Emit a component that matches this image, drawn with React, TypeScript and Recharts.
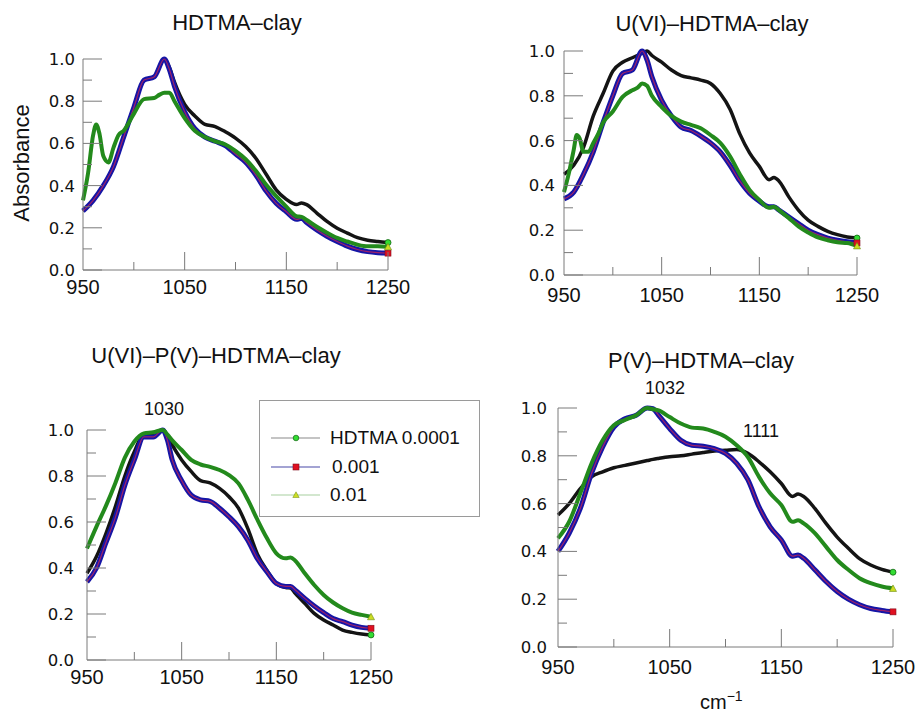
import React from 'react';
import { LineChart, Line, XAxis, YAxis, Legend } from 'recharts';

// wavenumber grids (cm^-1)
const WN = [950, 960, 970, 980, 990, 1000, 1010, 1020, 1030, 1035, 1040, 1050, 1060, 1070, 1080, 1090, 1100, 1110, 1120, 1130, 1140, 1150, 1160, 1165, 1170, 1180, 1190, 1200, 1210, 1220, 1230, 1240, 1250];
const WN_FINE = [950, 955, 960, 963, 966, 970, 975, 980, 985, 990, 1000, 1010, 1020, 1025, 1030, 1035, 1040, 1050, 1060, 1070, 1080, 1090, 1100, 1110, 1120, 1130, 1140, 1150, 1160, 1165, 1170, 1180, 1190, 1200, 1210, 1220, 1230, 1240, 1250];

const X_TICKS = [950, 1000, 1050, 1100, 1150, 1200, 1250];
const Y_TICKS = [0, 0.1, 0.2, 0.3, 0.4, 0.5, 0.6, 0.7, 0.8, 0.9, 1.0];

const SERIES_NAMES = ['HDTMA 0.0001', '0.001', '0.01'];

// Panel 1: HDTMA-clay
const P1_K = [0.28, 0.33, 0.40, 0.49, 0.63, 0.77, 0.90, 0.915, 1.0, 0.96, 0.89, 0.785, 0.73, 0.69, 0.68, 0.655, 0.625, 0.585, 0.53, 0.455, 0.38, 0.335, 0.31, 0.318, 0.31, 0.27, 0.23, 0.198, 0.175, 0.153, 0.141, 0.135, 0.13];
const P1_B = [0.28, 0.33, 0.40, 0.49, 0.63, 0.77, 0.90, 0.915, 1.0, 0.95, 0.87, 0.75, 0.67, 0.63, 0.61, 0.59, 0.55, 0.51, 0.45, 0.375, 0.316, 0.276, 0.24, 0.245, 0.225, 0.19, 0.16, 0.135, 0.113, 0.097, 0.087, 0.082, 0.08];
const P1_G = [0.33, 0.46, 0.64, 0.69, 0.65, 0.54, 0.51, 0.58, 0.64, 0.66, 0.74, 0.81, 0.815, 0.83, 0.84, 0.84, 0.80, 0.72, 0.66, 0.63, 0.61, 0.595, 0.565, 0.525, 0.47, 0.405, 0.35, 0.30, 0.255, 0.252, 0.237, 0.205, 0.177, 0.152, 0.135, 0.12, 0.112, 0.113, 0.11];

// Panel 2: U(VI)-HDTMA-clay
const P2_K = [0.45, 0.49, 0.57, 0.71, 0.81, 0.91, 0.95, 0.97, 0.99, 1.0, 0.98, 0.95, 0.915, 0.89, 0.88, 0.87, 0.855, 0.81, 0.74, 0.63, 0.545, 0.485, 0.425, 0.435, 0.42, 0.35, 0.29, 0.245, 0.217, 0.195, 0.18, 0.17, 0.165];
const P2_B = [0.34, 0.37, 0.45, 0.55, 0.68, 0.80, 0.90, 0.915, 1.0, 0.96, 0.885, 0.78, 0.71, 0.66, 0.645, 0.62, 0.59, 0.55, 0.49, 0.42, 0.365, 0.33, 0.305, 0.305, 0.29, 0.26, 0.23, 0.20, 0.18, 0.165, 0.155, 0.148, 0.143];
const P2_G = [0.37, 0.455, 0.56, 0.625, 0.61, 0.55, 0.55, 0.59, 0.63, 0.68, 0.73, 0.795, 0.825, 0.835, 0.855, 0.845, 0.80, 0.75, 0.71, 0.685, 0.67, 0.655, 0.625, 0.59, 0.53, 0.45, 0.38, 0.335, 0.30, 0.305, 0.29, 0.255, 0.217, 0.19, 0.168, 0.155, 0.146, 0.143, 0.13];

// Panel 3: U(VI)-P(V)-HDTMA-clay
const P3_K = [0.377, 0.45, 0.55, 0.667, 0.80, 0.905, 0.98, 0.98, 1.0, 0.975, 0.935, 0.87, 0.82, 0.78, 0.77, 0.746, 0.71, 0.66, 0.57, 0.46, 0.39, 0.333, 0.315, 0.313, 0.29, 0.246, 0.203, 0.174, 0.152, 0.13, 0.12, 0.113, 0.109];
const P3_B = [0.34, 0.40, 0.51, 0.62, 0.76, 0.87, 0.97, 0.97, 1.0, 0.955, 0.87, 0.78, 0.717, 0.696, 0.69, 0.66, 0.623, 0.58, 0.52, 0.44, 0.384, 0.333, 0.32, 0.32, 0.304, 0.268, 0.235, 0.206, 0.18, 0.167, 0.152, 0.142, 0.138];
const P3_G = [0.485, 0.58, 0.67, 0.77, 0.88, 0.95, 0.985, 0.99, 1.0, 0.98, 0.955, 0.913, 0.87, 0.85, 0.84, 0.826, 0.804, 0.768, 0.696, 0.61, 0.53, 0.464, 0.442, 0.446, 0.432, 0.377, 0.326, 0.283, 0.25, 0.225, 0.206, 0.196, 0.188];

// Panel 4: P(V)-HDTMA-clay
const P4_K = [0.552, 0.60, 0.663, 0.712, 0.733, 0.75, 0.76, 0.77, 0.78, 0.785, 0.789, 0.796, 0.80, 0.807, 0.814, 0.82, 0.823, 0.826, 0.81, 0.775, 0.733, 0.684, 0.63, 0.64, 0.63, 0.58, 0.517, 0.46, 0.413, 0.37, 0.343, 0.325, 0.313];
const P4_B = [0.40, 0.476, 0.58, 0.726, 0.837, 0.92, 0.955, 0.97, 1.0, 0.997, 0.97, 0.914, 0.865, 0.844, 0.84, 0.83, 0.81, 0.768, 0.70, 0.587, 0.503, 0.448, 0.38, 0.385, 0.371, 0.323, 0.274, 0.232, 0.20, 0.177, 0.161, 0.153, 0.147];
const P4_G = [0.455, 0.524, 0.643, 0.768, 0.865, 0.928, 0.95, 0.97, 1.0, 0.995, 0.99, 0.962, 0.935, 0.918, 0.914, 0.90, 0.88, 0.844, 0.795, 0.712, 0.643, 0.594, 0.524, 0.53, 0.517, 0.476, 0.42, 0.364, 0.323, 0.288, 0.267, 0.253, 0.245];

const AXIS = '#7a7a7a';
const FONT = '"Liberation Sans", Arial, Helvetica, sans-serif';
const YFONT = '"DejaVu Sans", "Liberation Sans", sans-serif';
const C_BLACK = '#141414';
const C_BLUE = '#1515a6';
const C_RED = '#c0245a';
const C_GREEN = '#238a1c';

const pts = (xs: number[], ys: number[]) => xs.map((x, i) => ({ x, y: ys[i] }));

const makeYTick = (gap: number) => (props: any) => {
  const { x, y, payload } = props;
  const v = payload.value as number;
  const major = Math.round(v * 10) % 2 === 0;
  return (
    <g>
      <line x1={x} y1={y} x2={x + (major ? 19 : 9)} y2={y} stroke={AXIS} strokeWidth={1} />
      {major && (
        <text x={x - gap} y={y} dy="0.36em" textAnchor="end" fontSize={16.5} fill="#111" fontFamily={YFONT}>
          {v.toFixed(1)}
        </text>
      )}
    </g>
  );
};

const makeXTick = (gap: number) => (props: any) => {
  const { x, y, payload } = props;
  const v = payload.value as number;
  const major = (v - 950) % 100 === 0;
  return (
    <g>
      {v !== 950 && <line x1={x} y1={y} x2={x} y2={y - (major ? 18 : 8)} stroke={AXIS} strokeWidth={1} />}
      {major && (
        <text x={x} y={y + gap} dy="0.71em" textAnchor="middle" fontSize={20} fill="#111" fontFamily={FONT}>
          {v}
        </text>
      )}
    </g>
  );
};

const endDot = (n: number, kind: 'circle' | 'square' | 'triangle') => (props: any) => {
  const { cx, cy, index } = props;
  if (index !== n - 1 || cx == null || cy == null) return <g key={`d${index}`} />;
  if (kind === 'circle') return <circle key={`d${index}`} cx={cx} cy={cy} r={3} fill="#33dd33" stroke="#116611" strokeWidth={0.8} />;
  if (kind === 'square') return <rect key={`d${index}`} x={cx - 3} y={cy - 3} width={6} height={6} fill="#e01020" stroke="#801020" strokeWidth={0.6} />;
  return <polygon key={`d${index}`} points={`${cx},${cy - 3.5} ${cx - 3.5},${cy + 3} ${cx + 3.5},${cy + 3}`} fill="#ccdd22" stroke="#6a8a10" strokeWidth={0.6} />;
};

type PanelProps = {
  x0: number; x1: number; y0: number; y1: number;
  xGap: number; yGap: number;
  k: { x: number; y: number }[];
  b: { x: number; y: number }[];
  g: { x: number; y: number }[];
  top?: number;
  legend?: boolean;
  legendPos?: { left: number; top: number };
};

const YW = 60;
const XH = 40;

const LegendBox = () => (
  <div style={{ width: 221, height: 117, border: '1px solid #9a9a9a', background: '#fff', boxSizing: 'border-box', position: 'relative', fontFamily: FONT }}>
    {SERIES_NAMES.map((name, i) => {
      const cy = [37, 66, 94][i];
      const lineColor = ['#8a8a8a', '#4848a8', '#a8d0a0'][i];
      return (
        <div key={name} style={{ position: 'absolute', left: 0, top: cy - 12, height: 24, width: 221 }}>
          <svg width={60} height={24} style={{ position: 'absolute', left: 0, top: 0 }}>
            <line x1={11} y1={12} x2={61} y2={12} stroke={lineColor} strokeWidth={1.2} />
            {i === 0 && <circle cx={36} cy={12} r={2.8} fill="#33dd33" stroke="#116611" strokeWidth={0.7} />}
            {i === 1 && <rect x={33} y={9} width={6} height={6} fill="#e01020" stroke="#801020" strokeWidth={0.6} />}
            {i === 2 && <polygon points="36,8.8 32.8,14.5 39.2,14.5" fill="#ccdd22" stroke="#6a8a10" strokeWidth={0.5} />}
          </svg>
          <span style={{ position: 'absolute', left: i === 1 ? 72 : 70, top: 0, lineHeight: '24px', fontSize: 19, color: '#111', whiteSpace: 'nowrap' }}>{name}</span>
        </div>
      );
    })}
  </div>
);

const Panel = ({ x0, x1, y0, y1, xGap, yGap, k, b, g, top = 20, legend, legendPos }: PanelProps) => {
  const R = 22;
  const W = x1 - x0 + YW + R;
  const H = y1 - y0 + top + XH;
  return (
    <div style={{ position: 'absolute', left: x0 - YW, top: y0 - top }}>
      <LineChart width={W} height={H} margin={{ top, right: R, left: 0, bottom: 0 }}>
        <XAxis
          dataKey="x"
          type="number"
          domain={[950, 1250]}
          ticks={X_TICKS}
          interval={0}
          tickSize={0}
          tickMargin={0}
          height={XH}
          axisLine={{ stroke: AXIS, strokeWidth: 1 }}
          tickLine={false}
          tick={makeXTick(xGap)}
          allowDuplicatedCategory={false}
        />
        <YAxis
          type="number"
          domain={[0, 1]}
          ticks={Y_TICKS}
          interval={0}
          tickSize={0}
          tickMargin={0}
          width={YW}
          axisLine={{ stroke: AXIS, strokeWidth: 1 }}
          tickLine={false}
          tick={makeYTick(yGap)}
        />
        <Line data={k} dataKey="y" name={SERIES_NAMES[0]} type="monotone" stroke={C_BLACK} strokeWidth={3.5} dot={endDot(k.length, 'circle')} activeDot={false} isAnimationActive={false} />
        <Line data={b} dataKey="y" name={SERIES_NAMES[1]} type="monotone" stroke={C_BLUE} strokeWidth={5} dot={false} activeDot={false} isAnimationActive={false} />
        <Line data={b} dataKey="y" name="0.001 centre" legendType="none" type="monotone" stroke={C_RED} strokeWidth={1.2} strokeOpacity={0.8} dot={endDot(b.length, 'square')} activeDot={false} isAnimationActive={false} />
        <Line data={g} dataKey="y" name={SERIES_NAMES[2]} type="monotone" stroke={C_GREEN} strokeWidth={4} dot={endDot(g.length, 'triangle')} activeDot={false} isAnimationActive={false} />
        {legend && legendPos && (
          <Legend
            layout="vertical"
            align="center"
            verticalAlign="middle"
            content={() => <LegendBox />}
            wrapperStyle={{ left: legendPos.left, top: legendPos.top, width: 221, height: 117, margin: 0 }}
          />
        )}
      </LineChart>
    </div>
  );
};

const textStyle = (cx: number, cy: number, size: number): React.CSSProperties => ({
  position: 'absolute',
  left: cx,
  top: cy,
  transform: 'translate(-50%, -50%)',
  fontSize: size,
  lineHeight: 1,
  whiteSpace: 'nowrap',
  color: '#111',
  fontFamily: FONT,
});

export default function App() {
  return (
    <div style={{ position: 'absolute', left: 0, top: 0, width: 917, height: 713, overflow: 'hidden', background: '#fff', fontFamily: FONT }}>
      <Panel x0={83} x1={388} y0={59} y1={270} xGap={10} yGap={8} k={pts(WN, P1_K)} b={pts(WN, P1_B)} g={pts(WN_FINE, P1_G)} />
      <Panel x0={564} x1={857} y0={51} y1={275} xGap={13} yGap={9} k={pts(WN, P2_K)} b={pts(WN, P2_B)} g={pts(WN_FINE, P2_G)} />
      <Panel x0={87} x1={371} y0={430} y1={660} xGap={10} yGap={13} k={pts(WN, P3_K)} b={pts(WN, P3_B)} g={pts(WN, P3_G)} top={30} legend legendPos={{ left: 232, top: 0 }} />
      <Panel x0={558} x1={893} y0={408} y1={647} xGap={13} yGap={11} k={pts(WN, P4_K)} b={pts(WN, P4_B)} g={pts(WN, P4_G)} />

      <div style={textStyle(237, 23, 22)}>HDTMA–clay</div>
      <div style={textStyle(712, 24, 22)}>U(VI)–HDTMA–clay</div>
      <div style={textStyle(216, 356, 22)}>U(VI)–P(V)–HDTMA–clay</div>
      <div style={textStyle(701, 361, 22)}>P(V)–HDTMA–clay</div>

      <div style={textStyle(164, 409, 18)}>1030</div>
      <div style={textStyle(665, 388, 18)}>1032</div>
      <div style={textStyle(761, 431, 18)}>1111</div>

      <div style={{ ...textStyle(22, 163, 22), transform: 'translate(-50%, -50%) rotate(-90deg)' }}>Absorbance</div>
      <div style={{ position: 'absolute', left: 700, top: 692, fontSize: 20, lineHeight: 1, whiteSpace: 'nowrap', color: '#111', fontFamily: FONT }}>
        cm<sup style={{ fontSize: 14, verticalAlign: 'top', position: 'relative', top: -3 }}>−1</sup>
      </div>
    </div>
  );
}
